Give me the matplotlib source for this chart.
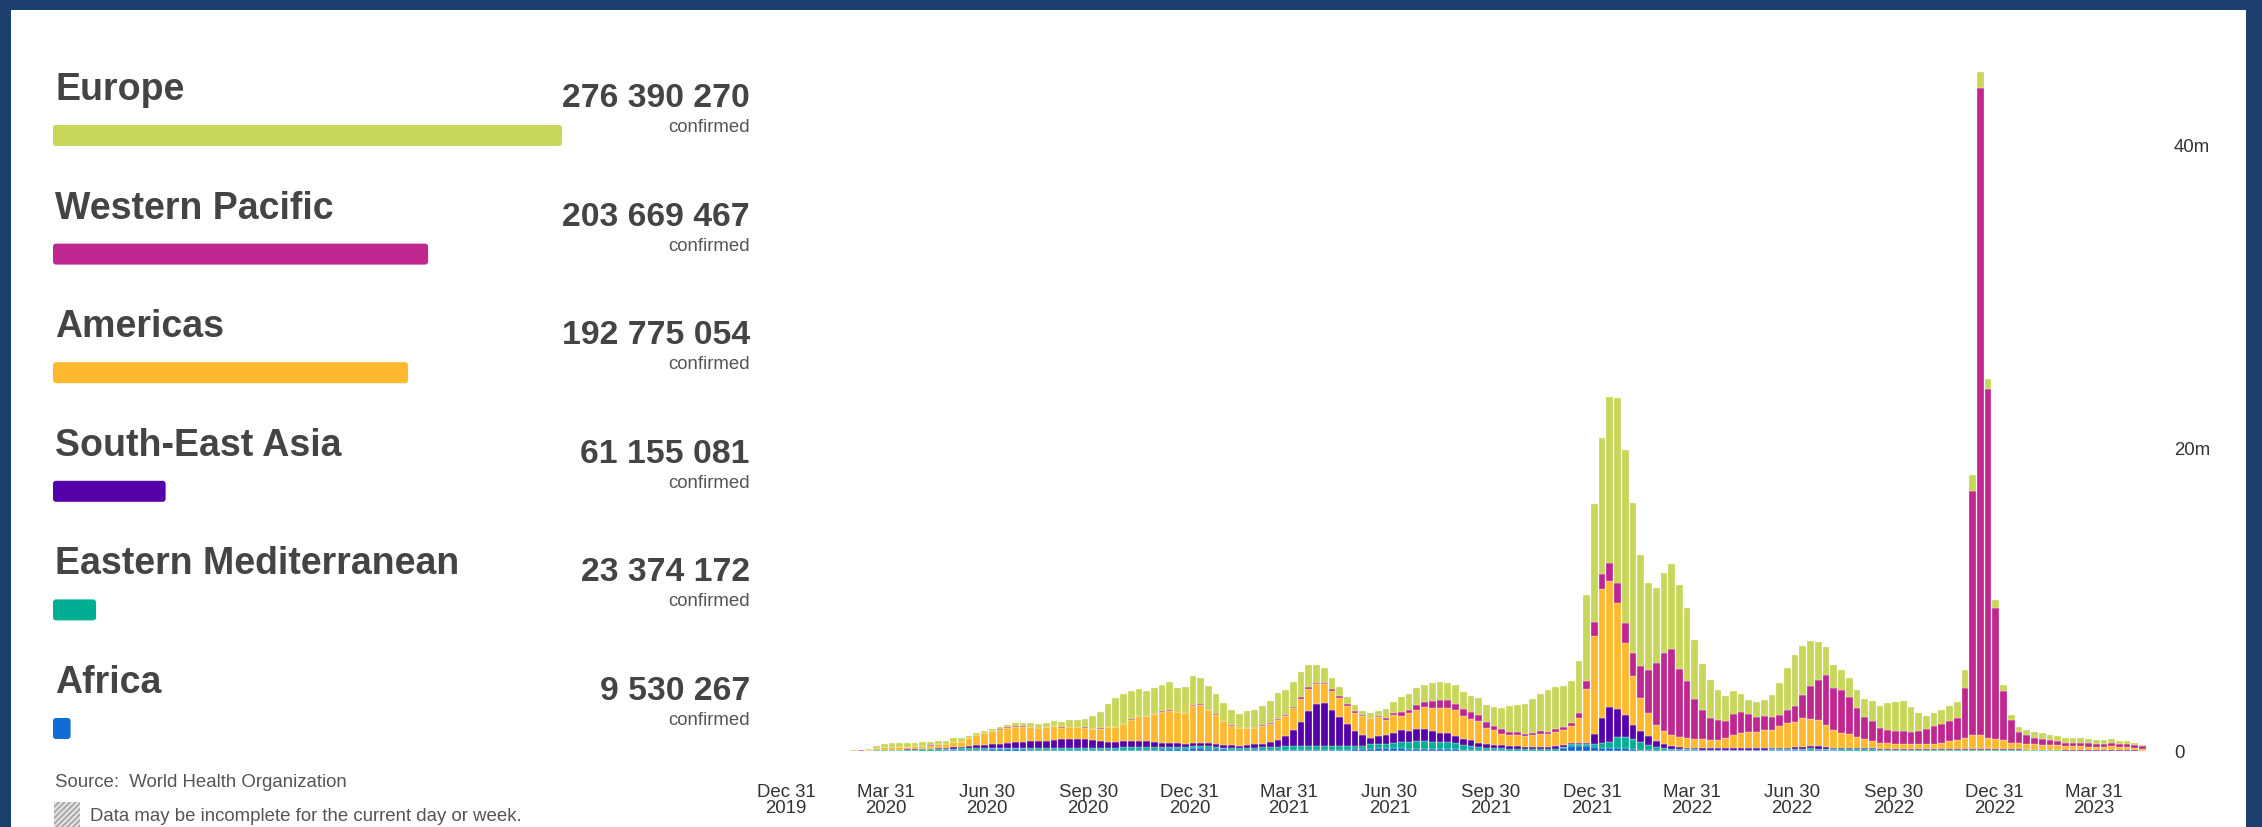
import numpy as np
import pandas as pd
import matplotlib
matplotlib.use("Agg")
import matplotlib.pyplot as plt
import matplotlib.dates as mdates
from matplotlib.patches import Rectangle, FancyBboxPatch

plt.rcParams['font.family'] = ['Liberation Sans', 'DejaVu Sans']
plt.rcParams['hatch.linewidth'] = 1.4

# cumulative totals for the left panel
regions = ["Europe", "Western Pacific", "Americas", "South-East Asia",
           "Eastern Mediterranean", "Africa"]
totals = [276390270, 203669467, 192775054, 61155081, 23374172, 9530267]
colors = ["#c8d65a", "#c0268f", "#ffb92f", "#5500aa", "#00ae94", "#116cd6"]

# weekly new cases (millions), one value per week starting 2019-12-29
europe = [
    0, 0, 0, 0, 0, 0, 0, .001, .003, .02,
    .06, .07, .13, .2, .26, .22, .26, .24, .23, .21,
    .21, .21, .25, .27, .17, .15, .15, .17, .15, .16,
    .2, .21, .22, .24, .26, .28, .33, .44, .46, .57,
    .83, 1.1, 1.5, 1.9, 2.0, 1.89, 1.78, 1.67, 1.74, 1.76,
    1.85, 1.58, 1.69, 1.89, 1.69, 1.54, 1.32, 1.14, .99, .92,
    1.07, 1.16, 1.27, 1.47, 1.71, 1.65, 1.63, 1.63, 1.43, 1.14,
    .95, .7, .57, .46, .4, .26, .33, .33, .62, .75,
    1.0, 1.03, 1.12, 1.16, 1.14, 1.19, 1.16, 1.21, 1.13, 1.1,
    1.12, 1.14, 1.23, 1.38, 1.71, 1.82, 1.98, 2.22, 2.48, 2.73,
    2.79, 2.68, 2.81, 3.47, 5.71, 7.8, 9.01, 10.97, 12.2, 11.43,
    9.85, 7.36, 5.76, 4.92, 5.27, 5.6, 5.58, 4.81, 3.85, 3.03,
    2.51, 1.95, 1.65, 1.47, 1.21, .92, .97, 1.05, 1.49, 2.11,
    2.81, 3.34, 3.21, 2.95, 2.48, 1.85, 1.54, 1.34, 1.25, 1.14,
    1.16, 1.32, 1.45, 1.78, 1.93, 1.93, 1.65, 1.19, .9, .88,
    .91, .98, 1.06, 1.14, 1.11, 1.05, .69, .48, .42, .3,
    .3, .3, .36, .36, .33, .36, .33, .33, .33, .27,
    .27, .27, .24, .21, .18, .15, .03,
]
western_pacific = [
    0, 0, .001, .004, .013, .021, .028, .012, .006, .006,
    .008, .01, .01, .01, .01, .01, .01, .01, .01, .01,
    .01, .01, .01, .01, .01, .01, .01, .02, .02, .02,
    .03, .03, .03, .03, .03, .03, .02, .02, .02, .02,
    .02, .02, .02, .02, .02, .02, .02, .03, .03, .03,
    .04, .04, .04, .11, .11, .04, .04, .03, .03, .03,
    .03, .03, .03, .04, .07, .09, .11, .11, .15, .13,
    .09, .13, .13, .13, .13, .05, .05, .06, .1, .11,
    .24, .22, .29, .33, .48, .53, .5, .44, .48, .42,
    .42, .37, .31, .29, .18, .18, .13, .15, .15, .15,
    .18, .18, .22, .29, .55, .9, 1.01, 1.16, 1.3, 1.34,
    1.58, 2.07, 2.79, 4.09, 5.16, 5.71, 4.48, 3.76, 2.64, 1.91,
    1.45, 1.3, 1.12, 1.41, 1.38, 1.19, 1.01, .95, .81, .77,
    .86, 1.08, 1.56, 2.2, 2.62, 3.32, 2.73, 2.81, 2.46, 1.93,
    1.49, 1.3, .99, .88, .81, .88, .79, .9, .95, 1.16,
    1.22, 1.36, 1.44, 3.3, 16.1, 42.73, 23.0, 8.7, 3.24, 1.5,
    .78, .6, .45, .39, .36, .27, .21, .21, .21, .21,
    .15, .18, .24, .21, .21, .21, .24,
]
americas = [
    0, 0, 0, 0, 0, 0, 0, 0, .001, .003,
    .01, .05, .13, .18, .2, .2, .18, .2, .18, .2,
    .25, .25, .32, .32, .5, .67, .78, .82, .94, .98,
    .98, .97, .95, .85, .87, .9, .73, .8, .82, .78,
    .75, .8, .98, .98, 1.14, 1.43, 1.63, 1.64, 1.84, 2.04,
    2.1, 2.03, 2.0, 2.4, 2.46, 2.18, 1.94, 1.58, 1.29, 1.14,
    1.13, 1.06, 1.18, 1.21, 1.3, 1.32, 1.43, 1.54, 1.43, 1.32,
    1.23, 1.25, 1.25, 1.21, 1.19, 1.27, 1.27, 1.26, 1.0, 1.16,
    .95, 1.21, 1.27, 1.45, 1.5, 1.63, 1.69, 1.71, 1.53, 1.43,
    1.41, 1.05, .95, .77, .7, .75, .75, .77, .88, .86,
    .95, 1.03, 1.1, 1.69, 3.52, 6.46, 8.48, 8.35, 6.99, 4.77,
    3.23, 2.22, 1.52, 1.08, .84, .68, .66, .64, .62, .59,
    .57, .57, .66, .88, .99, 1.05, 1.05, 1.21, 1.19, 1.41,
    1.6, 1.65, 1.87, 1.76, 1.76, 1.43, 1.19, 1.01, .9, .75,
    .59, .51, .42, .38, .35, .33, .32, .31, .35, .35,
    .43, .52, .58, .75, .9, .9, .75, .66, .6, .45,
    .4, .38, .36, .33, .3, .3, .27, .27, .27, .24,
    .24, .21, .24, .21, .18, .15, .09,
]
south_east_asia = [
    0, 0, 0, 0, 0, 0, 0, 0, 0, .001,
    .002, .005, .01, .02, .02, .02, .03, .04, .05, .06,
    .08, .09, .1, .12, .15, .17, .2, .25, .27, .35,
    .4, .42, .45, .48, .52, .57, .65, .62, .6, .58,
    .52, .48, .38, .38, .37, .37, .37, .36, .31, .28,
    .26, .24, .22, .22, .22, .2, .2, .18, .18, .17,
    .18, .21, .25, .33, .45, .68, 1.08, 1.6, 2.33, 2.73,
    2.85, 2.4, 1.93, 1.45, 1.01, .7, .44, .5, .57, .68,
    .81, .7, .81, .81, .73, .59, .59, .46, .4, .4,
    .29, .26, .22, .2, .2, .15, .13, .13, .13, .13,
    .18, .1, .09, .09, .09, .66, 1.67, 2.31, 1.87, 1.43,
    .88, .73, .64, .4, .29, .2, .13, .11, .09, .09,
    .09, .09, .09, .09, .09, .09, .09, .09, .11, .11,
    .11, .13, .13, .15, .15, .11, .09, .09, .09, .09,
    .07, .07, .07, .07, .07, .07, .07, .07, .07, .07,
    .06, .06, .06, .05, .05, .05, .05, .04, .04, .04,
    .04, .03, .03, .03, .03, .03, .02, .02, .02, .02,
    .02, .03, .03, .03, .03, .02, .01,
]
eastern_mediterranean = [
    0, 0, 0, 0, 0, 0, 0, .001, .002, .008,
    .015, .02, .04, .04, .05, .04, .05, .05, .07, .07,
    .08, .09, .1, .11, .12, .12, .12, .12, .1, .1,
    .1, .1, .1, .11, .11, .12, .12, .13, .13, .14,
    .15, .16, .17, .18, .2, .2, .21, .2, .18, .17,
    .16, .14, .14, .15, .15, .14, .13, .12, .12, .12,
    .14, .17, .18, .2, .22, .25, .24, .26, .28, .28,
    .27, .26, .25, .24, .22, .22, .28, .28, .3, .35,
    .4, .45, .5, .5, .5, .48, .45, .4, .3, .25,
    .2, .17, .15, .13, .12, .12, .1, .1, .1, .1,
    .1, .08, .08, .08, .1, .2, .3, .4, .72, .75,
    .7, .5, .32, .2, .15, .11, .09, .07, .06, .05,
    .05, .05, .05, .05, .05, .05, .05, .05, .07, .07,
    .07, .09, .11, .13, .11, .11, .09, .09, .09, .07,
    .07, .07, .04, .04, .04, .04, .04, .04, .04, .04,
    .04, .04, .04, .05, .05, .05, .05, .04, .04, .04,
    .04, .03, .03, .03, .03, .03, .02, .02, .02, .02,
    .02, .02, .02, .02, .02, .02, .01,
]
africa = [
    0, 0, 0, 0, 0, 0, 0, 0, 0, 0,
    .001, .003, .01, .01, .01, .01, .02, .02, .03, .03,
    .03, .04, .05, .06, .07, .08, .09, .1, .1, .11,
    .11, .1, .08, .07, .06, .05, .05, .04, .04, .04,
    .04, .04, .04, .05, .06, .07, .07, .08, .09, .1,
    .12, .14, .13, .18, .18, .16, .12, .1, .08, .07,
    .06, .06, .06, .06, .06, .06, .06, .06, .06, .06,
    .06, .06, .07, .08, .1, .14, .16, .18, .18, .18,
    .17, .15, .14, .13, .12, .12, .12, .11, .08, .06,
    .06, .05, .05, .04, .03, .03, .03, .03, .03, .03,
    .03, .2, .35, .35, .35, .28, .22, .19, .2, .17,
    .11, .07, .05, .05, .05, .04, .04, .04, .04, .04,
    .04, .04, .04, .04, .04, .04, .04, .04, .04, .04,
    .04, .04, .05, .05, .05, .04, .04, .03, .03, .03,
    .03, .03, .03, .03, .03, .03, .03, .03, .03, .03,
    .03, .03, .03, .03, .03, .03, .03, .03, .03, .02,
    .02, .02, .02, .02, .02, .02, .01, .01, .01, .01,
    .01, .01, .01, .01, .01, .01, .005,
]

tick_dates = ["2019-12-31", "2020-03-31", "2020-06-30", "2020-09-30",
              "2020-12-31", "2021-03-31", "2021-06-30", "2021-09-30",
              "2021-12-31", "2022-03-31", "2022-06-30", "2022-09-30",
              "2022-12-31", "2023-03-31"]
y_ticks = [0, 20, 40]
y_labels = ["0", "20m", "40m"]

W, H = 2262, 828
text_col = "#444444"
fig = plt.figure(figsize=(W / 100, H / 100), dpi=100, facecolor="#1b406e")

# background layer in pixel coordinates (y down)
bg = fig.add_axes([0, 0, 1, 1])
bg.set_xlim(0, W)
bg.set_ylim(H, 0)
bg.axis("off")
bg.add_patch(Rectangle((11, 11), W - 27, H, facecolor="white", edgecolor="none"))

row = 118.6
for k, (name, tot, col) in enumerate(zip(regions, totals, colors)):
    y0 = k * row
    bg.text(55, 100 + y0, name, fontsize=27, fontweight="bold",
            color=text_col, va="baseline")
    bw = tot / totals[0] * 509
    bg.add_patch(FancyBboxPatch((53, 126 + y0), bw, 21,
                                boxstyle="round,pad=0,rounding_size=3",
                                facecolor=col, edgecolor="none"))
    bg.text(750, 107 + y0, f"{tot:,}".replace(",", " "), fontsize=24.3,
            fontweight="bold", color=text_col, ha="right", va="baseline")
    bg.text(750, 132 + y0, "confirmed", fontsize=13.4, color="#555555",
            ha="right", va="baseline")

bg.text(55, 787, "Source:  World Health Organization", fontsize=13.4,
        color="#555555", va="baseline")
bg.add_patch(Rectangle((54, 803), 26, 26, facecolor="#e6e6e6",
                       edgecolor="#a8a8a8", hatch="//////", linewidth=0))
bg.text(90, 821, "Data may be incomplete for the current day or week.",
        fontsize=13.4, color="#555555", va="baseline")

# stacked weekly bars
ax = fig.add_axes([770 / W, (H - 752) / H, (2160 - 770) / W, (752 - 60) / H])
ax.set_facecolor("none")
dates = pd.date_range("2019-12-29", periods=len(europe), freq="7D")
x = mdates.date2num(dates.to_pydatetime())

stack = [africa, eastern_mediterranean, south_east_asia, americas,
         western_pacific, europe]
stack_colors = colors[::-1]
bottom = np.zeros(len(x))
for vals, col in zip(stack, stack_colors):
    vals = np.array(vals)
    ax.bar(x, vals, width=6.1, bottom=bottom, color=col,
           edgecolor="white", linewidth=0.2)
    bottom += vals

x0 = mdates.date2num(pd.Timestamp("2019-12-31").to_pydatetime())
px_per_day = 7.72 / 7
ax.set_xlim(x0 - 16 / px_per_day, x0 + (2160 - 786) / px_per_day)
ax.set_ylim(0, (752 - 60) / 15.15)

ticks = pd.to_datetime(tick_dates)
ax.set_xticks(mdates.date2num(ticks.to_pydatetime()))
ax.set_xticklabels([d.strftime("%b %d\n%Y") for d in ticks], fontsize=13.4,
                   color="#333333", linespacing=0.95)
ax.tick_params(axis="x", length=0, pad=23)

ax.yaxis.tick_right()
ax.set_yticks(y_ticks)
ax.set_yticklabels(y_labels, fontsize=13.4, color="#333333")
ax.tick_params(axis="y", length=0, pad=10)
for s in ax.spines.values():
    s.set_visible(False)

fig.savefig("out.png", dpi=100, facecolor=fig.get_facecolor())
